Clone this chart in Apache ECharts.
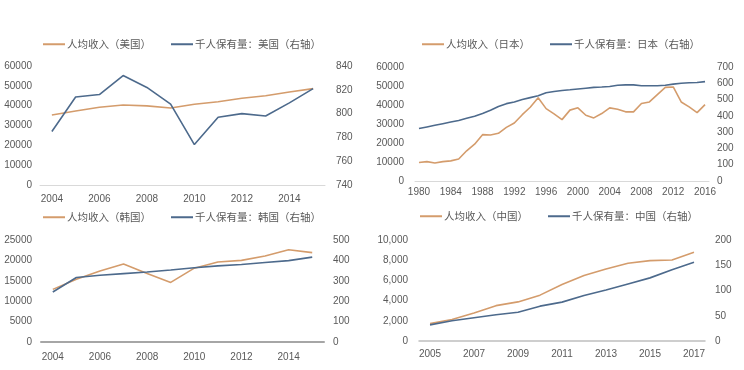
<!DOCTYPE html>
<html>
<head>
<meta charset="utf-8">
<script src="https://cdn.jsdelivr.net/npm/echarts@6/dist/echarts.min.js"></script>
<style>
html,body{margin:0;padding:0;background:#fff;}
#c{width:744px;height:370px;}
</style>
</head>
<body>
<div id="c"></div>
<script>
// ---- Data ----
const usYears = ['2004','2005','2006','2007','2008','2009','2010','2011','2012','2013','2014','2015'];
const usIncome = [35300, 37300, 39200, 40300, 39900, 38800, 40700, 42000, 43700, 45000, 46900, 48600];
const usCars = [785, 814, 816, 832, 822, 808, 774, 797, 800, 798, 809, 821];

const jpYears = ['1980','1981','1982','1983','1984','1985','1986','1987','1988','1989','1990','1991','1992','1993','1994','1995','1996','1997','1998','1999','2000','2001','2002','2003','2004','2005','2006','2007','2008','2009','2010','2011','2012','2013','2014','2015','2016'];
const jpIncome = [9700, 10200, 9500, 10200, 10600, 11600, 15900, 19400, 24400, 24200, 25100, 28200, 30500, 34900, 38800, 43800, 38100, 35300, 32300, 37300, 38500, 34600, 33200, 35500, 38500, 37800, 36400, 36400, 40800, 41600, 45500, 49300, 49500, 41600, 39000, 36000, 40200];
const jpCars = [322, 332, 342, 352, 362, 372, 385, 398, 415, 435, 458, 475, 485, 500, 512, 523, 542, 550, 556, 560, 565, 570, 575, 577, 580, 588, 590, 590, 585, 585, 585, 588, 595, 600, 603, 605, 610];

const krYears = ['2004','2005','2006','2007','2008','2009','2010','2011','2012','2013','2014','2015'];
const krIncome = [12900, 15400, 17400, 19100, 16800, 14600, 18100, 19600, 20000, 21100, 22600, 21900];
const krCars = [245, 316, 327, 335, 343, 353, 364, 373, 380, 390, 399, 416];

const cnYears = ['2005','2006','2007','2008','2009','2010','2011','2012','2013','2014','2015','2016','2017'];
const cnIncome = [1720, 2120, 2780, 3500, 3870, 4540, 5590, 6480, 7130, 7690, 7960, 8020, 8780];
const cnCars = [32, 40, 46, 52, 57, 69, 77, 90, 101, 113, 125, 141, 156];

const names = {
  usI: '人均收入（美国）', usC: '千人保有量：美国（右轴）',
  jpI: '人均收入（日本）', jpC: '千人保有量：日本（右轴）',
  krI: '人均收入（韩国）', krC: '千人保有量：韩国（右轴）',
  cnI: '人均收入（中国）', cnC: '千人保有量：中国（右轴）'
};

// ---- Style ----
const ORANGE = '#D49C6C';
const BLUE = '#4D6A8C';
const TXT = '#595959';
const FONT = '"Liberation Sans", "Noto Sans CJK SC", sans-serif';
const LFONT = '"Noto Sans CJK SC", sans-serif';

function legend(left, top, a, b) {
  return {
    left: left, top: top, padding: 0, data: [a, b], icon: 'rect', itemWidth: 22, itemHeight: 2,
    itemGap: 20, textStyle: {color: TXT, fontSize: 10.5, fontFamily: LFONT, padding: [0,0,0,-3]}
  };
}
function xAx(grid, data, interval, margin, lineColor, lineWidth) {
  return {
    type: 'category', gridIndex: grid, data: data, boundaryGap: true,
    axisTick: {show: false},
    axisLine: {show: true, lineStyle: {color: lineColor, width: lineWidth}},
    axisLabel: {interval: interval, color: TXT, fontSize: 10, fontFamily: FONT, margin: margin}
  };
}
function yAx(grid, pos, min, max, interval, margin, fmt) {
  return {
    type: 'value', gridIndex: grid, position: pos, min: min, max: max, interval: interval,
    axisLine: {show: false}, axisTick: {show: false}, splitLine: {show: false},
    axisLabel: {color: TXT, fontSize: 10, fontFamily: FONT, margin: margin,
      formatter: fmt || function (v) { return String(v); }}
  };
}
function line(name, xi, yi, data, color) {
  return {
    name: name, type: 'line', xAxisIndex: xi, yAxisIndex: yi, data: data,
    symbol: 'none', smooth: false, lineStyle: {color: color, width: 1.6},
    itemStyle: {color: color}, animation: false
  };
}

const chart = echarts.init(document.getElementById('c'), null, {renderer: 'canvas'});
chart.setOption({
  backgroundColor: '#fff',
  animation: false,
  legend: [
    legend(43, 39, names.usI, names.usC),
    legend(422, 39, names.jpI, names.jpC),
    legend(43, 212, names.krI, names.krC),
    legend(420, 211, names.cnI, names.cnC)
  ],
  grid: [
    {left: 40, top: 66, width: 285, height: 119},
    {left: 415, top: 67, width: 294, height: 114},
    {left: 41, top: 240, width: 283, height: 102},
    {left: 419, top: 240, width: 286, height: 101}
  ],
  xAxis: [
    xAx(0, usYears, 1, 9, '#d9d9d9', 1),
    xAx(1, jpYears, 3, 6, '#d9d9d9', 1),
    xAx(2, krYears, 1, 10, '#a6a6a6', 2),
    xAx(3, cnYears, 1, 8, '#bfbfbf', 1.5)
  ],
  yAxis: [
    yAx(0, 'left', 0, 60000, 10000, 8),
    yAx(0, 'right', 740, 840, 20, 11),
    yAx(1, 'left', 0, 60000, 10000, 11),
    yAx(1, 'right', 0, 700, 100, 8),
    yAx(2, 'left', 0, 25000, 5000, 9),
    yAx(2, 'right', 0, 500, 100, 9),
    yAx(3, 'left', 0, 10000, 2000, 11, function (v) { return v.toLocaleString('en-US'); }),
    yAx(3, 'right', 0, 200, 50, 10)
  ],
  series: [
    line(names.usI, 0, 0, usIncome, ORANGE),
    line(names.usC, 0, 1, usCars, BLUE),
    line(names.jpI, 1, 2, jpIncome, ORANGE),
    line(names.jpC, 1, 3, jpCars, BLUE),
    line(names.krI, 2, 4, krIncome, ORANGE),
    line(names.krC, 2, 5, krCars, BLUE),
    line(names.cnI, 3, 6, cnIncome, ORANGE),
    line(names.cnC, 3, 7, cnCars, BLUE)
  ]
});
</script>
</body>
</html>
